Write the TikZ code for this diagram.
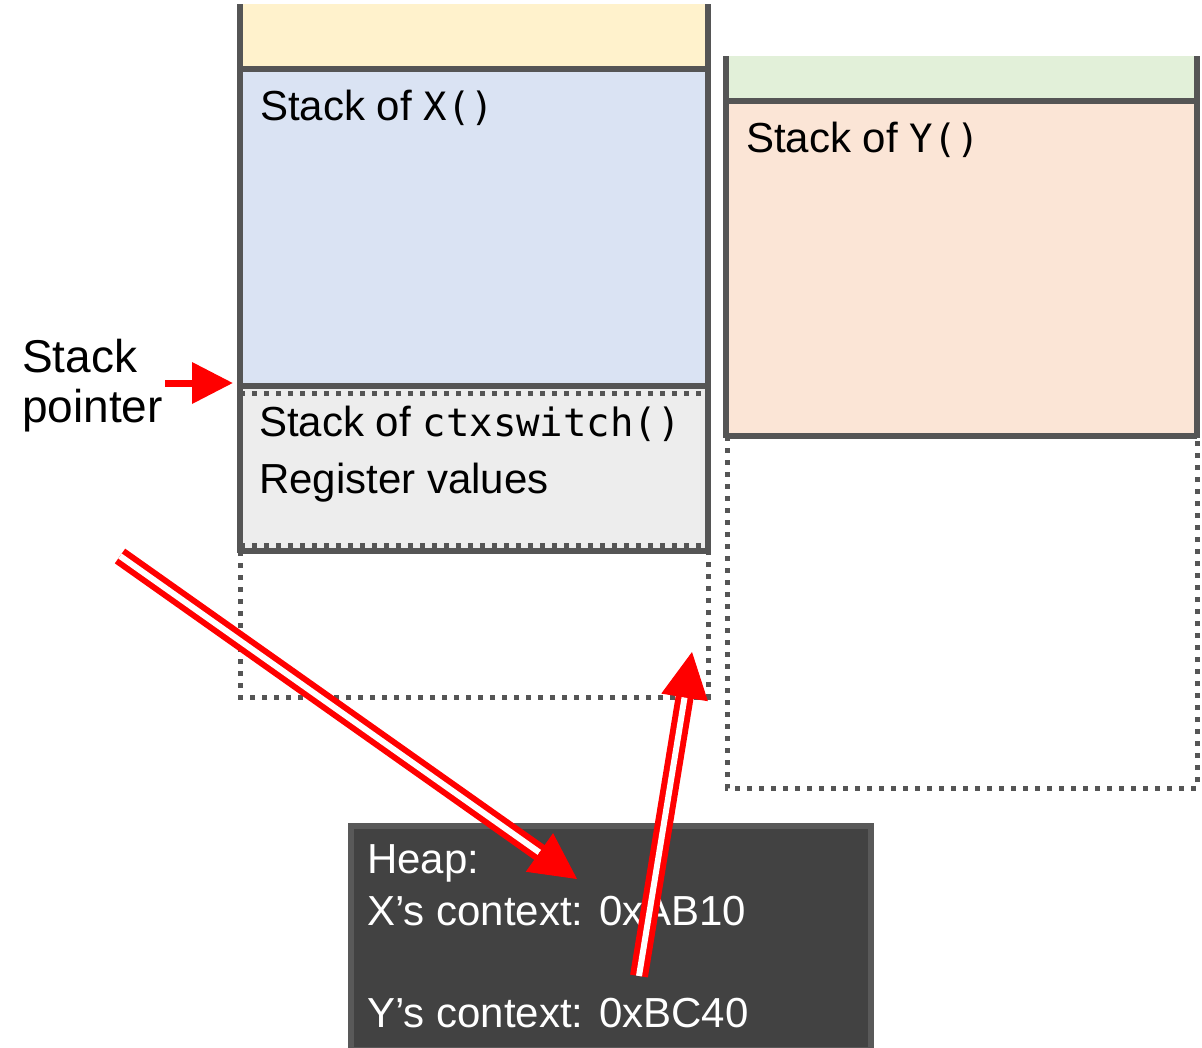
\documentclass[tikz,border=0pt]{standalone}
\usepackage{fontspec}
\setmainfont{Liberation Sans}
\newfontfamily\codefont{DejaVu Sans Mono}
\usetikzlibrary{arrows.meta,calc}

\definecolor{edge}{HTML}{555555}
\definecolor{yfill}{HTML}{FFF2CC}
\definecolor{bfill}{HTML}{DAE3F3}
\definecolor{gfill}{HTML}{E2F0D9}
\definecolor{pfill}{HTML}{FBE5D6}
\definecolor{cfill}{HTML}{EDEDED}
\definecolor{heapfill}{HTML}{424242}
\definecolor{heapedge}{HTML}{595959}

\newcommand\codetxt[1]{{\codefont\fontsize{39}{46}\selectfont #1}}

\begin{document}
\begin{tikzpicture}[x=1pt,y=-1pt,
  solidedge/.style={draw=edge, line width=5.5pt},
  dotedge/.style={draw=edge, line width=5pt, dash pattern=on 5pt off 7pt},
  lbl/.style={anchor=base west, inner sep=0pt, font=\fontsize{42}{50}\selectfont},
  splbl/.style={anchor=base west, inner sep=0pt, font=\fontsize{46}{50}\selectfont},
  heaptxt/.style={lbl, text=white},
  heapbox/.style={draw=heapedge, line width=6pt, fill=heapfill, anchor=north west,
    minimum width=520pt, minimum height=224pt, inner sep=0pt},
  dblline/.style={draw=red, line width=6pt, double=white, double distance=6pt},
  redhead/.style={draw=red, fill=red, line width=1pt, -{Triangle[length=46pt,width=47pt]}},
  sparrow/.style={draw=red, line width=7pt, -{Triangle[length=41pt,width=40pt]}}
]
\clip (0,0) rectangle (1202,1047);
\useasboundingbox (0,0) rectangle (1202,1047);

% stack of X: fills
\fill[yfill] (240,4) rectangle (708,69);
\fill[bfill] (240,69) rectangle (708,386);
\fill[cfill] (240,386) rectangle (708,551);
% ctxswitch frame and the free area below it
\draw[dotedge] (240,393) -- (708,393);
\draw[dotedge] (240,545) -- (708,545);
\draw[dotedge] (240,551) -- (240,697) -- (708,697) -- (708,551);
% solid outline of X's stack
\draw[solidedge] (240,4) -- (240,553);
\draw[solidedge] (708,4) -- (708,553);
\draw[solidedge] (240,69) -- (708,69);
\draw[solidedge] (240,386) -- (708,386);
\draw[solidedge] (240,551) -- (708,551);

% stack of Y
\fill[gfill] (726,56) rectangle (1197,101);
\fill[pfill] (726,101) rectangle (1197,436);
\draw[dotedge] (727,436) -- (727,788) -- (1197,788) -- (1197,436);
\draw[solidedge] (726,56) -- (726,438);
\draw[solidedge] (1197,56) -- (1197,438);
\draw[solidedge] (726,101) -- (1197,101);
\draw[solidedge] (726,436) -- (1197,436);

% labels in the stacks
\node[lbl] (xlbl) at (260,120) {Stack of \codetxt{X()}};
\node[lbl] (ylbl) at (746,152) {Stack of \codetxt{Y()}};
\node[lbl] (clbl) at (259,436) {Stack of \codetxt{ctxswitch()}};
\node[lbl] (rlbl) at (259,493) {Register values};

% stack pointer
\node[splbl] (sp1) at (22,372) {Stack};
\node[splbl] (sp2) at (22,422) {pointer};
\coordinate (sptail) at (165,383);
\coordinate (sptip) at (233,383);
\draw[sparrow] (sptail) -- (sptip);

% heap
\node[heapbox] (heap) at (348,823) {};
\node[heaptxt] (heapttl) at (367,873) {Heap:};
\node[heaptxt] (xctx) at (367,925) {X’s context: 0xAB10};
\node[heaptxt] (yctx) at (367,1027) {Y’s context: 0xBC40};

% saved stack pointer of X goes to the heap
\coordinate (xtail) at (120,556);
\coordinate (xtip) at (577,879);
\draw[dblline, shorten >=40pt] (xtail) -- (xtip);
\draw[redhead] ($(xtip)!46pt!(xtail)$) -- (xtip);

% Y's context is loaded back
\coordinate (ytail) at (639,976);
\coordinate (ytip) at (692,652);
\draw[dblline, shorten >=40pt] (ytail) -- (ytip);
\draw[redhead] ($(ytip)!46pt!(ytail)$) -- (ytip);
\end{tikzpicture}
\end{document}
